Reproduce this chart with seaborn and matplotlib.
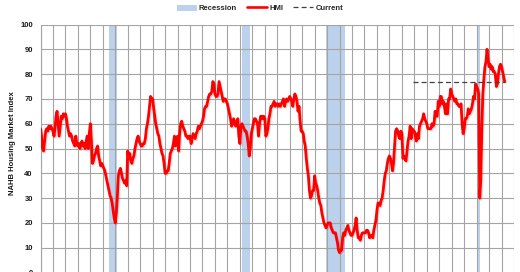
import numpy as np
import pandas as pd
import matplotlib
matplotlib.use("Agg")
import matplotlib.pyplot as plt
import matplotlib.dates as mdates
import matplotlib.patheffects as pe
from matplotlib.patches import Patch
from matplotlib.lines import Line2D
import seaborn as sns

# ---------------- data (monthly NAHB HMI, Jan 1985 - Apr 2022) ----------------
hmi_1985_1994 = [
    58, 55, 50, 49, 53, 57, 58, 57, 59, 58, 59, 58,   # 1985
    57, 55, 58, 63, 65, 60, 55, 59, 63, 62, 64, 63,   # 1986
    64, 62, 59, 57, 55, 56, 55, 53, 52, 51, 55, 52,   # 1987
    51, 52, 50, 52, 53, 51, 52, 50, 53, 55, 50, 56,   # 1988
    60, 53, 44, 45, 47, 48, 50, 51, 47, 45, 43, 44,   # 1989
    43, 42, 41, 39, 37, 35, 33, 31, 30, 28, 25, 22,   # 1990
    20, 24, 30, 39, 41, 42, 40, 38, 37, 36, 37, 35,   # 1991
    49, 46, 48, 45, 44, 46, 47, 50, 52, 54, 55, 53,   # 1992
    52, 51, 51, 52, 52, 54, 58, 60, 63, 67, 71, 70,   # 1993
    70, 66, 63, 60, 58, 56, 55, 52, 50, 48, 47, 44,   # 1994
]
hmi_1995_2004 = [
    40, 40, 41, 41, 44, 48, 49, 50, 52, 55, 51, 53,   # 1995
    55, 49, 56, 60, 61, 59, 58, 57, 55, 55, 54, 55,   # 1996
    55, 52, 54, 56, 55, 54, 56, 57, 59, 58, 59, 60,   # 1997
    61, 63, 66, 67, 67, 69, 71, 72, 72, 73, 77, 76,   # 1998
    72, 71, 71, 72, 77, 75, 73, 71, 69, 70, 70, 69,   # 1999
    68, 66, 64, 62, 59, 60, 62, 60, 59, 61, 62, 55,   # 2000
    52, 59, 60, 59, 58, 57, 57, 55, 52, 47, 50, 56,   # 2001
    58, 60, 62, 62, 61, 60, 55, 60, 63, 63, 62, 63,   # 2002
    62, 55, 56, 58, 62, 64, 67, 67, 68, 69, 67, 68,   # 2003
    68, 67, 68, 67, 68, 69, 70, 67, 69, 70, 69, 70,   # 2004
]
hmi_2005_2014 = [
    71, 70, 69, 67, 70, 72, 71, 69, 65, 67, 61, 57,   # 2005
    57, 56, 53, 51, 46, 42, 39, 33, 30, 31, 33, 33,   # 2006
    39, 36, 35, 33, 30, 28, 27, 24, 22, 20, 19, 18,   # 2007
    19, 20, 20, 20, 18, 17, 16, 16, 16, 14, 12, 9,    # 2008
    8, 9, 9, 14, 16, 15, 17, 18, 19, 17, 16, 15,      # 2009
    15, 16, 17, 19, 22, 17, 14, 14, 13, 15, 16, 16,   # 2010
    16, 16, 17, 17, 16, 14, 15, 15, 14, 17, 19, 21,   # 2011
    25, 28, 28, 27, 29, 30, 33, 37, 40, 41, 44, 46,   # 2012
    47, 46, 44, 41, 44, 51, 57, 58, 57, 55, 54, 57,   # 2013
    56, 46, 47, 46, 45, 49, 53, 55, 59, 54, 58, 57,   # 2014
]
hmi_2015_2022 = [
    57, 55, 53, 56, 54, 59, 60, 61, 62, 64, 62, 61,   # 2015
    60, 58, 58, 58, 58, 60, 59, 60, 65, 63, 63, 69,   # 2016
    67, 71, 71, 68, 69, 67, 64, 68, 64, 70, 70, 74,   # 2017
    72, 71, 70, 69, 70, 68, 68, 67, 67, 68, 60, 56,   # 2018
    58, 62, 62, 63, 66, 64, 65, 66, 68, 71, 70, 76,   # 2019
    75, 74, 72, 30, 37, 58, 72, 78, 83, 85, 90, 86,   # 2020
    83, 84, 82, 83, 81, 81, 80, 75, 76, 80, 83, 84,   # 2021
    83, 81, 79, 77,                                   # 2022
]
series_start = "1985-01-01"
recession_starts = ["1990-07-01", "2001-03-01", "2007-12-01", "2020-02-01"]
recession_ends = ["1991-03-01", "2001-11-01", "2009-06-01", "2020-04-01"]
current_value = 77
current_from = "2014-12-01"
y_ticks = [0, 10, 20, 30, 40, 50, 60, 70, 80, 90, 100]
y_label = "NAHB Housing Market Index"
legend_labels = ["Recession", "HMI", "Current"]

hmi = hmi_1985_1994 + hmi_1995_2004 + hmi_2005_2014 + hmi_2015_2022
df = pd.DataFrame({
    "date": pd.date_range(series_start, periods=len(hmi), freq="MS"),
    "hmi": hmi,
})

# ---------------- figure ----------------
sns.set_style("white")
plt.rcParams["font.family"] = ["Liberation Sans", "DejaVu Sans"]

W, H = 520, 272
fig = plt.figure(figsize=(W / 100, H / 100), dpi=100)
ax = fig.add_axes([40.5 / W, -0.5 / H, (514 - 40.5) / W, (272.5 - 24.5) / H])

band_color = "#bcd1ec"
grid_color = "#a4a4a4"

for s, e in zip(recession_starts, recession_ends):
    ax.axvspan(pd.Timestamp(s), pd.Timestamp(e), color=band_color, lw=0, zorder=0.5)

sns.lineplot(data=df, x="date", y="hmi", color="#ff0000", lw=2.0, ax=ax, zorder=3,
             path_effects=[pe.SimpleLineShadow(offset=(0.8, -0.8), shadow_color="#ff0000", alpha=0.18),
                           pe.Normal()])

ax.hlines(current_value, pd.Timestamp(current_from), df["date"].iloc[-1],
          colors="#404040", linestyles=(0, (4, 2.5)), lw=0.9, zorder=4)

ax.set_xlim(pd.Timestamp("1985-01-01"), pd.Timestamp("2023-01-01"))
ax.set_ylim(0, 100)
ax.xaxis.set_major_locator(mdates.YearLocator(1))
ax.set_xticklabels([])
ax.tick_params(axis="x", length=0)
ax.set_yticks(y_ticks)
ax.set_yticklabels([str(v) for v in y_ticks], fontsize=5.5, fontweight="bold", color="#1a1a1a")
ax.tick_params(axis="y", length=3, width=0.7, color=grid_color, pad=2.5)

ax.grid(True, which="major", axis="both", color=grid_color, lw=0.8, zorder=1)
ax.set_axisbelow(False)
for sp in ["top", "right", "bottom"]:
    ax.spines[sp].set_visible(False)
ax.spines["left"].set_color(grid_color)
ax.spines["left"].set_linewidth(0.8)

ax.set_xlabel("")
ax.set_ylabel(y_label, fontsize=5.5, fontweight="bold", color="#1a1a1a")
ax.yaxis.set_label_coords(-0.052, 0.52)

handles = [
    Patch(facecolor=band_color, edgecolor="none"),
    Line2D([0], [0], color="#ff0000", lw=1.9),
    Line2D([0], [0], color="#404040", lw=0.9, linestyle=(0, (4, 2.5))),
]
fig.legend(handles, legend_labels, loc="center", bbox_to_anchor=(260 / W, 1 - 8.5 / H),
           ncol=3, frameon=False, prop={"size": 5.5, "weight": "bold"},
           handlelength=2.6, handleheight=0.9, handletextpad=0.3, columnspacing=1.3,
           borderpad=0, borderaxespad=0)

fig.savefig("out.png", dpi=100)
